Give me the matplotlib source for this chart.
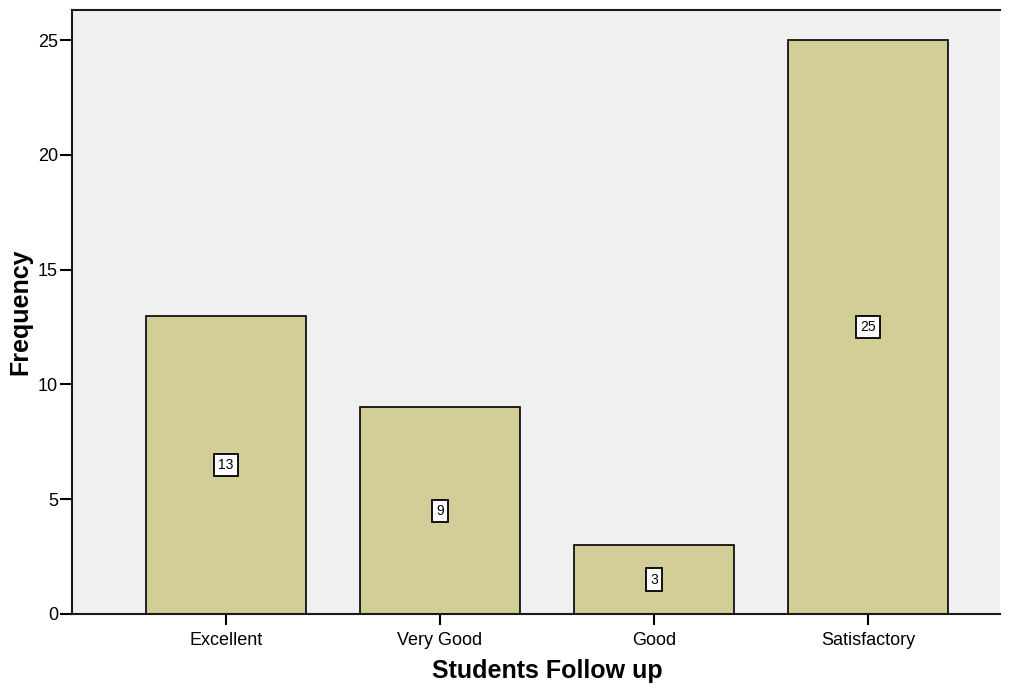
import matplotlib.pyplot as plt
import numpy as np

categories = ['Excellent', 'Very Good', 'Good', 'Satisfactory']
counts = [13, 9, 3, 25]
yticks = [0, 5, 10, 15, 20, 25]

plt.rcParams['font.family'] = ['Liberation Sans', 'DejaVu Sans']

fig = plt.figure(figsize=(10.12, 6.91), dpi=100)
ax = fig.add_axes([72/1012., 1-614/691., 928/1012., 604/691.])
ax.set_facecolor('#F0F0F0')

x = np.arange(len(categories))
bars = ax.bar(x, counts, width=0.75, color='#D3CE97', edgecolor='black', linewidth=1.2, zorder=2)

# value labels in white boxes at half bar height
for xi, c in zip(x, counts):
	ax.text(xi, c/2.0, str(c), ha='center', va='center', fontsize=10, zorder=3,
		bbox=dict(boxstyle='square,pad=0.3', facecolor='white', edgecolor='black', linewidth=1.3))

ax.set_xlim(-0.7196, 3.617)
ax.set_ylim(0, 26.31)
ax.set_xticks(x)
ax.set_xticklabels(categories, fontsize=13)
ax.set_yticks(yticks)
ax.tick_params(axis='y', labelsize=13, length=8.5, width=1.5, direction='out', pad=1.5)
ax.tick_params(axis='x', length=8, width=1.5, direction='out', pad=5)

ax.spines['right'].set_visible(False)
for s in ['left', 'top', 'bottom']:
	ax.spines[s].set_linewidth(1.5)
	ax.spines[s].set_color('#1a1a1a')

ax.set_xlabel('Students Follow up', fontsize=18, fontweight='bold')
ax.set_ylabel('Frequency', fontsize=18, fontweight='bold')
ax.xaxis.set_label_coords(0.512, -0.075)
ax.yaxis.set_label_coords(-0.043, 0.5)

plt.savefig('out.png', dpi=100)
